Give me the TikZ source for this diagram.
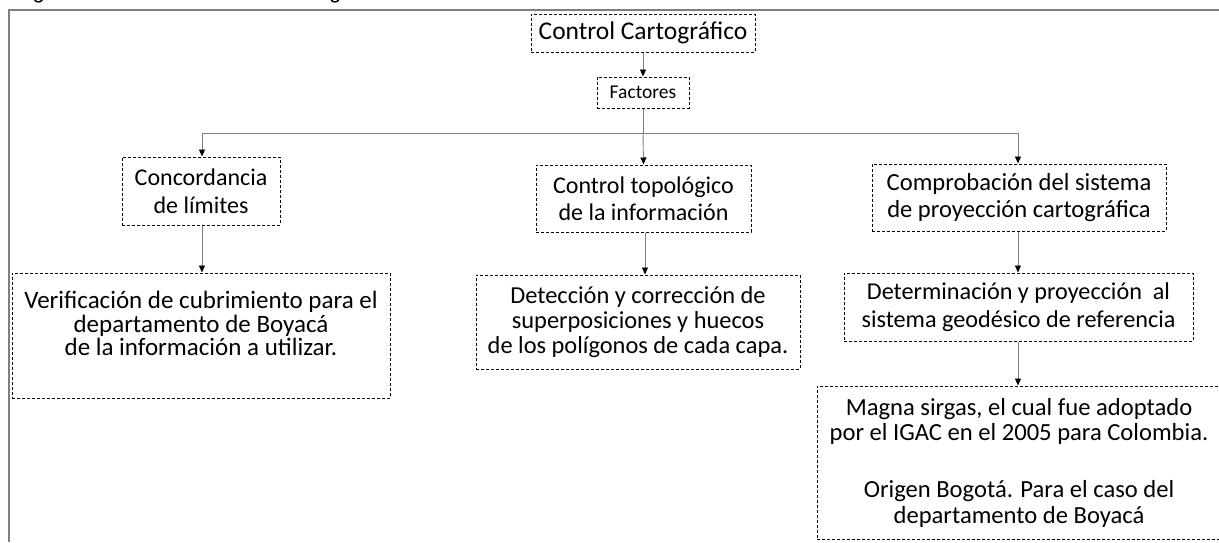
\documentclass[tikz,border=0pt]{standalone}
\usepackage{fontspec}
\setmainfont{Carlito}
\newfontfamily\capfont{Liberation Sans}
\usetikzlibrary{arrows.meta}
\definecolor{linegray}{HTML}{808080}
\tikzset{
  box/.style={draw=black, dashed, dash pattern=on 3pt off 2pt, line width=1pt,
    align=center, inner sep=0pt, font=\fontsize{24}{25}\selectfont},
  conn/.style={draw=linegray, line width=0.9pt, -{Triangle[length=7pt,width=6pt,color=black]}},
  plainline/.style={draw=linegray, line width=0.9pt},
  frameline/.style={draw=linegray, line width=1.2pt},
  captext/.style={font=\capfont\fontsize{22}{26}\selectfont, inner sep=0pt, anchor=base west}
}
\begin{document}
\begin{tikzpicture}[x=1pt,y=-1pt]
\useasboundingbox (0,0) rectangle (1219,542);
% caption (cut off at the top)
\node[captext] (figw) at (14,-1.5) {Figura};
\node[captext] (capt) at (203,-1.5) {Control cartográfico};
% frame
\coordinate (ftl) at (9,10);
\coordinate (ftr) at (1219,10);
\coordinate (fbl) at (9,542);
\draw[frameline] (ftr) -- (ftl) -- (fbl);
% nodes
\node[box, minimum width=224pt, minimum height=38pt, font=\fontsize{25.5}{27}\selectfont] (cc) at (643,33) {Control Cartográfico};
\node[box, minimum width=92pt, minimum height=31pt, font=\fontsize{19.5}{21}\selectfont] (fac) at (643,92.5) {Factores};
\node[box, minimum width=158pt, minimum height=68pt, font=\fontsize{24}{28}\selectfont] (conc) at (201,191) {Concordancia\\de límites};
\node[box, minimum width=378pt, minimum height=125pt, font=\fontsize{25}{23.5}\selectfont] (ver) at (201,335.5) {Verificación de cubrimiento para el\\departamento de Boyacá\\de la información a utilizar.\\\mbox{}};
\node[box, minimum width=215pt, minimum height=67pt, font=\fontsize{24}{27}\selectfont] (ctop) at (643.5,198.5) {Control topológico\\de la información};
\node[box, minimum width=324pt, minimum height=94pt, font=\fontsize{24.4}{25}\selectfont] (det) at (638,322) {Detección y corrección de\\superposiciones y huecos\\de los polígonos de cada capa.};
\node[box, minimum width=294pt, minimum height=67pt, font=\fontsize{24.6}{27}\selectfont] (comp) at (1019,197.5) {Comprobación del sistema\\de proyección cartográfica};
\node[box, minimum width=349pt, minimum height=68pt, font=\fontsize{24.2}{28}\selectfont] (deter) at (1018.5,307) {Determinación y proyección\ \ al\\sistema geodésico de referencia};
\node[box, minimum width=404pt, minimum height=153pt, font=\fontsize{24.6}{25.5}\selectfont] (mag) at (1019,462.5) {Magna sirgas, el cual fue adoptado\\por el IGAC en el 2005 para Colombia.\\[6pt]\mbox{}\\Origen Bogotá. Para el caso del\\departamento de Boyacá};
% connectors
\draw[conn] (cc.south) -- (fac.north);
\coordinate (bl) at (202,133);
\coordinate (bm) at (643,133);
\coordinate (br) at (1018,133);
\draw[plainline] (fac.south) -- (bm);
\draw[plainline] (bl) -- (br);
\draw[conn] (bl) -- (bl |- conc.north);
\draw[conn] (bm) -- (ctop.north);
\draw[conn] (br) -- (br |- comp.north);
\draw[conn] (bl |- conc.south) -- (bl |- ver.north);
\coordinate (cx) at (645,0);
\draw[conn] (cx |- ctop.south) -- (cx |- det.north);
\draw[conn] (br |- comp.south) -- (br |- deter.north);
\draw[conn] (br |- deter.south) -- (br |- mag.north);
\end{tikzpicture}
\end{document}
